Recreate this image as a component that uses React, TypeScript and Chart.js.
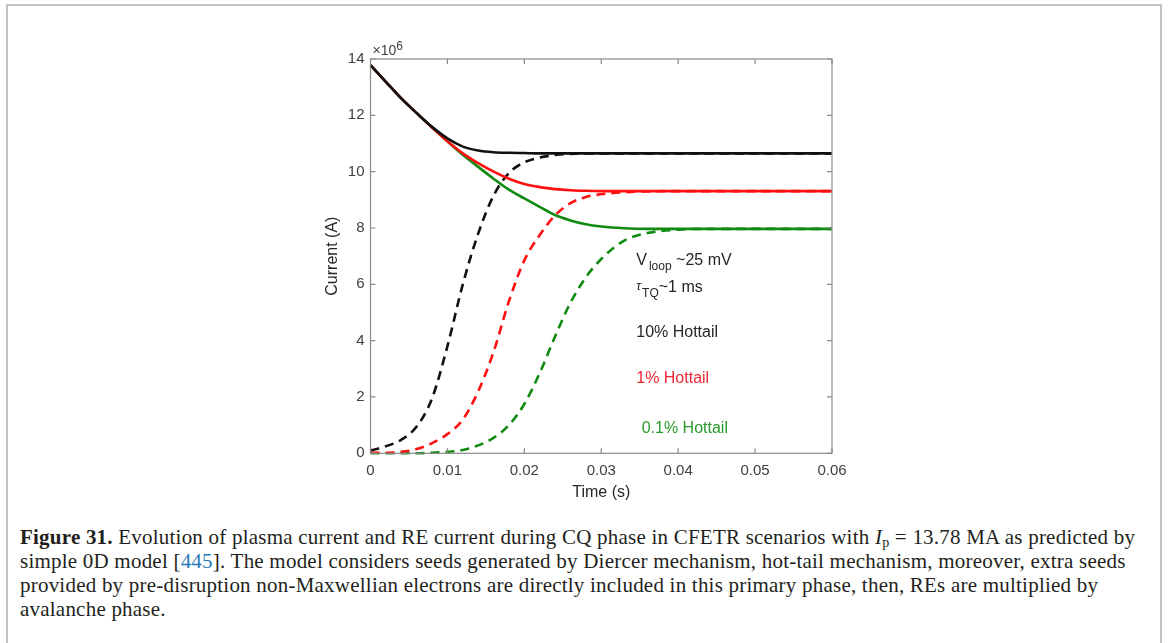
import React, { useEffect, useRef } from "react";
import { Chart, registerables } from "chart.js";

Chart.register(...registerables);

// Time axis (s)
const TIME = [0, 0.002, 0.004, 0.006, 0.008, 0.01, 0.012, 0.014, 0.016, 0.018, 0.02, 0.022, 0.024, 0.026, 0.028, 0.03, 0.033, 0.036, 0.04, 0.045, 0.05, 0.06];

// Plasma current (A, in units of 1e6) – solid lines
const PLASMA_10 = [13.78, 13.19, 12.6, 12.08, 11.59, 11.18, 10.89, 10.75, 10.69, 10.67, 10.66, 10.65, 10.65, 10.65, 10.65, 10.65, 10.65, 10.65, 10.65, 10.65, 10.65, 10.65];
const PLASMA_1 = [13.78, 13.19, 12.6, 12.08, 11.57, 11.08, 10.65, 10.3, 10.0, 9.75, 9.56, 9.45, 9.38, 9.34, 9.32, 9.31, 9.31, 9.31, 9.31, 9.31, 9.31, 9.31];
const PLASMA_01 = [13.78, 13.19, 12.6, 12.08, 11.57, 11.08, 10.6, 10.17, 9.75, 9.36, 9.05, 8.75, 8.46, 8.27, 8.13, 8.05, 7.99, 7.97, 7.97, 7.97, 7.97, 7.97];

// Runaway electron current (A, in units of 1e6) – dashed lines
const RE_10 = [0.1, 0.25, 0.48, 0.95, 1.95, 3.8, 6.0, 7.8, 9.15, 9.95, 10.33, 10.5, 10.59, 10.63, 10.65, 10.65, 10.65, 10.65, 10.65, 10.65, 10.65, 10.65];
const RE_1 = [0.02, 0.02, 0.05, 0.15, 0.36, 0.68, 1.2, 2.2, 3.6, 5.4, 6.85, 7.75, 8.45, 8.88, 9.1, 9.2, 9.27, 9.3, 9.31, 9.31, 9.31, 9.31];
const RE_01 = [0, 0, 0, 0, 0.02, 0.05, 0.12, 0.28, 0.55, 1.0, 1.75, 2.85, 4.15, 5.35, 6.25, 6.9, 7.55, 7.82, 7.94, 7.97, 7.97, 7.97];

const X_TICKS = [0, 0.01, 0.02, 0.03, 0.04, 0.05, 0.06];
const X_TICK_LABELS = ["0", "0.01", "0.02", "0.03", "0.04", "0.05", "0.06"];
const Y_TICKS = [0, 2, 4, 6, 8, 10, 12, 14];
const Y_TICK_LABELS = ["0", "2", "4", "6", "8", "10", "12", "14"];

const BLACK = "#111111";
const RED = "#ff1010";
const GREEN = "#108a10";

const SANS = '"Liberation Sans", Arial, sans-serif';

// Annotation anchors in data coordinates (t, value)
const NOTE_X = [0.03455, 0.03455, 0.03455, 0.03455, 0.03526];
const NOTE_Y = [6.68, 5.73, 4.13, 2.5, 0.72];

function toPoints(arr: number[]) {
  return TIME.map((t, i) => ({ x: t, y: arr[i] }));
}

const boxPlugin = {
  id: "matlabBox",
  afterDatasetsDraw(chart: any) {
    const { ctx, chartArea, scales } = chart;
    const { left, right, top, bottom } = chartArea;
    const xs = scales.x;
    const ys = scales.y;
    ctx.save();
    ctx.strokeStyle = "#8a8a8a";
    ctx.lineWidth = 1.2;
    ctx.strokeRect(left, top, right - left, bottom - top);
    const L = 5;
    ctx.beginPath();
    X_TICKS.forEach((v) => {
      const px = xs.getPixelForValue(v);
      ctx.moveTo(px, bottom);
      ctx.lineTo(px, bottom - L);
      ctx.moveTo(px, top);
      ctx.lineTo(px, top + L);
    });
    Y_TICKS.forEach((v) => {
      const py = ys.getPixelForValue(v);
      ctx.moveTo(left, py);
      ctx.lineTo(left + L, py);
      ctx.moveTo(right, py);
      ctx.lineTo(right - L, py);
    });
    ctx.stroke();

    // exponent label
    ctx.fillStyle = "#404040";
    ctx.textBaseline = "alphabetic";
    ctx.textAlign = "left";
    ctx.font = `14px ${SANS}`;
    ctx.fillText("\u00d710", left + 2, top - 4);
    const w10 = ctx.measureText("\u00d710").width;
    ctx.font = `12px ${SANS}`;
    ctx.fillText("6", left + 2 + w10, top - 9);

    // annotations
    const px = (i: number) => xs.getPixelForValue(NOTE_X[i]);
    const py = (i: number) => ys.getPixelForValue(NOTE_Y[i]);

    // V_loop ~25 mV
    let x0 = px(0);
    let y0 = py(0);
    ctx.fillStyle = "#262626";
    ctx.font = `16px ${SANS}`;
    ctx.fillText("V", x0, y0);
    x0 += ctx.measureText("V").width + 2;
    ctx.font = `12px ${SANS}`;
    ctx.fillText("loop", x0, y0 + 5);
    x0 += ctx.measureText("loop").width;
    ctx.font = `16px ${SANS}`;
    ctx.fillText(" ~25 mV", x0, y0);

    // tau_TQ ~1 ms
    x0 = px(1);
    y0 = py(1);
    ctx.font = `italic 13px ${SANS}`;
    ctx.fillText("\u03c4", x0, y0 - 2);
    x0 += ctx.measureText("\u03c4").width + 1;
    ctx.font = `12px ${SANS}`;
    ctx.fillText("TQ", x0, y0 + 5);
    x0 += ctx.measureText("TQ").width;
    ctx.font = `16px ${SANS}`;
    ctx.fillText("~1 ms", x0, y0);

    ctx.font = `16px ${SANS}`;
    ctx.fillStyle = "#262626";
    ctx.fillText("10% Hottail", px(2), py(2));
    ctx.fillStyle = "#f02a35";
    ctx.fillText("1% Hottail", px(3), py(3));
    ctx.fillStyle = "#2a9a2a";
    ctx.fillText("0.1% Hottail", px(4), py(4));
    ctx.restore();
  },
};

export default function App() {
  const ref = useRef<HTMLCanvasElement>(null);

  useEffect(() => {
    const canvas = ref.current;
    if (!canvas) return;
    const solid = (label: string, data: number[], color: string) => ({
      label,
      data: toPoints(data),
      borderColor: color,
      backgroundColor: color,
      borderWidth: 2.6,
      pointRadius: 0,
      cubicInterpolationMode: "monotone" as const,
      fill: false,
      clip: false as any,
    });
    const dashed = (label: string, data: number[], color: string) => ({
      ...solid(label, data, color),
      borderDash: [9, 6],
    });
    const chart = new Chart(canvas, {
      type: "line",
      data: {
        datasets: [
          solid("Plasma current, 10% hottail", PLASMA_10, BLACK),
          solid("Plasma current, 1% hottail", PLASMA_1, RED),
          solid("Plasma current, 0.1% hottail", PLASMA_01, GREEN),
          dashed("RE current, 10% hottail", RE_10, BLACK),
          dashed("RE current, 1% hottail", RE_1, RED),
          dashed("RE current, 0.1% hottail", RE_01, GREEN),
        ],
      },
      options: {
        animation: false,
        responsive: false,
        devicePixelRatio: 1,
        layout: { padding: { left: 0, top: 39, right: 28, bottom: 14.6 } },
        plugins: {
          legend: { display: false },
          tooltip: { enabled: false },
        },
        scales: {
          x: {
            type: "linear",
            min: 0,
            max: 0.06,
            grid: { display: false, drawTicks: false },
            border: { display: false },
            afterBuildTicks: (s: any) => {
              s.ticks = X_TICKS.map((v) => ({ value: v }));
            },
            afterFit: (s: any) => {
              s.height = 52.1;
            },
            ticks: {
              padding: 9,
              color: "#404040",
              font: { family: SANS, size: 15 },
              maxRotation: 0,
              callback: (_v: any, i: number) => X_TICK_LABELS[i],
            },
            title: {
              display: true,
              text: "Time (s)",
              color: "#262626",
              font: { family: SANS, size: 16 },
              padding: { top: 0, bottom: 3 },
            },
          },
          y: {
            type: "linear",
            min: 0,
            max: 14,
            grid: { display: false, drawTicks: false },
            border: { display: false },
            afterBuildTicks: (s: any) => {
              s.ticks = Y_TICKS.map((v) => ({ value: v }));
            },
            afterFit: (s: any) => {
              s.width = 70.5;
            },
            ticks: {
              padding: 6,
              color: "#404040",
              font: { family: SANS, size: 15 },
              callback: (_v: any, i: number) => Y_TICK_LABELS[i],
            },
            title: {
              display: true,
              text: "Current (A)",
              color: "#262626",
              font: { family: SANS, size: 16 },
              padding: { top: 23.4, bottom: 0 },
            },
          },
        },
      },
      plugins: [boxPlugin],
    } as any);
    return () => chart.destroy();
  }, []);

  const lineStyle: React.CSSProperties = { whiteSpace: "nowrap" };

  return (
    <div
      style={{
        position: "fixed",
        left: 0,
        top: 0,
        width: 1170,
        height: 643,
        background: "#ffffff",
        overflow: "hidden",
      }}
    >
      <div
        style={{
          position: "absolute",
          left: 6,
          top: 4,
          width: 1156,
          height: 700,
          border: "2px solid #c4c4c4",
          boxSizing: "border-box",
        }}
      />
      <canvas
        ref={ref}
        width={560}
        height={500}
        style={{ position: "absolute", left: 300, top: 20, width: 560, height: 500 }}
      />
      <div
        style={{
          position: "absolute",
          left: 20,
          top: 525,
          fontFamily: '"Liberation Serif", "Times New Roman", serif',
          fontSize: 21,
          letterSpacing: "0.22px",
          lineHeight: "24px",
          color: "#231f20",
        }}
      >
        <div style={lineStyle}>
          <b>Figure 31.</b> Evolution of plasma current and RE current during CQ phase in CFETR scenarios with{" "}
          <i>I</i>
          <sub style={{ fontSize: 14, verticalAlign: "-3px", lineHeight: 0 }}>p</sub> = 13.78 MA as predicted by
        </div>
        <div style={lineStyle}>
          simple 0D model [<span style={{ color: "#2a7ab8" }}>445</span>]. The model considers seeds generated by Diercer
          mechanism, hot-tail mechanism, moreover, extra seeds
        </div>
        <div style={lineStyle}>
          provided by pre-disruption non-Maxwellian electrons are directly included in this primary phase, then, REs are
          multiplied by
        </div>
        <div style={lineStyle}>avalanche phase.</div>
      </div>
    </div>
  );
}
